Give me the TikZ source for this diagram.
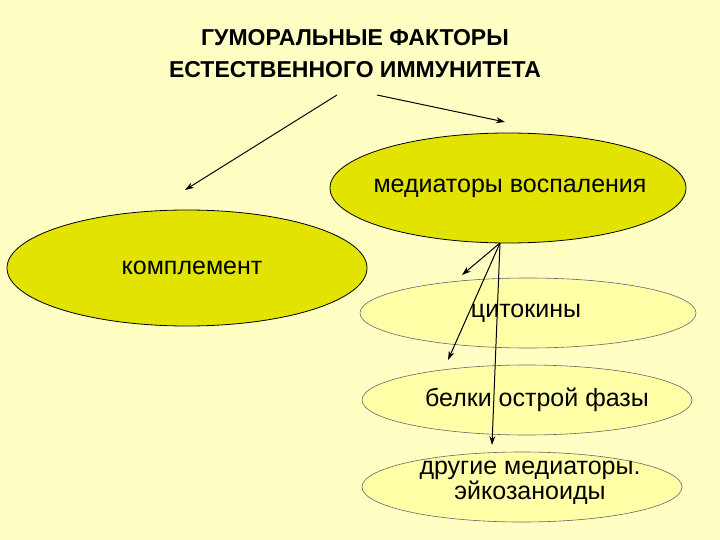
\documentclass[tikz,border=0pt]{standalone}
\usepackage{fontspec}
\setmainfont{Liberation Sans}
\usetikzlibrary{arrows.meta}
\begin{document}
\begin{tikzpicture}[x=1pt,y=-1pt,
  arr/.style={-{Stealth[length=9pt,width=6pt]},line width=1pt},
  lbl/.style={font=\fontsize{25}{25}\selectfont,align=center}]
\definecolor{bgY}{HTML}{FFFFC4}
\definecolor{dkY}{HTML}{E3E300}
\definecolor{ltY}{HTML}{FFFFA8}
\useasboundingbox (0,0) rectangle (720,540);
\fill[bgY] (0,0) rectangle (720,540);
\node[font=\bfseries\fontsize{23}{32}\selectfont,align=center] (t) at (355,54) {ГУМОРАЛЬНЫЕ ФАКТОРЫ\\ЕСТЕСТВЕННОГО ИММУНИТЕТА};
\fill[dkY,draw=black,line width=0.8pt] (508,188) ellipse [x radius=178,y radius=55];
\node[lbl] (m) at (510,188) {медиаторы воспаления};
\fill[dkY,draw=black,line width=0.8pt] (187,268) ellipse [x radius=180,y radius=58];
\node[lbl] (k) at (192,268) {комплемент};
\fill[ltY,draw=black!60,line width=0.6pt] (528,313) ellipse [x radius=168,y radius=35];
\node[lbl] (c) at (526,313) {цитокины};
\fill[ltY,draw=black!60,line width=0.6pt] (527,400) ellipse [x radius=165,y radius=35];
\node[lbl] (b) at (537,400) {белки острой фазы};
\fill[ltY,draw=black!60,line width=0.6pt] (522,487) ellipse [x radius=160,y radius=35];
\node[lbl,font=\fontsize{25}{20}\selectfont] (d) at (530,483) {другие медиаторы.\\эйкозаноиды};
\coordinate (a1) at (337,95); \coordinate (e1) at (185,190);
\coordinate (a2) at (377,95); \coordinate (e2) at (505,122);
\coordinate (s) at (500,243);
\coordinate (f1) at (462,275); \coordinate (f2) at (448,360); \coordinate (f3) at (492,445);
\draw[arr] (a1) -- (e1);
\draw[arr] (a2) -- (e2);
\draw[arr] (s) -- (f1);
\draw[arr] (s) -- (f2);
\draw[arr] (s) -- (f3);
\end{tikzpicture}
\end{document}
